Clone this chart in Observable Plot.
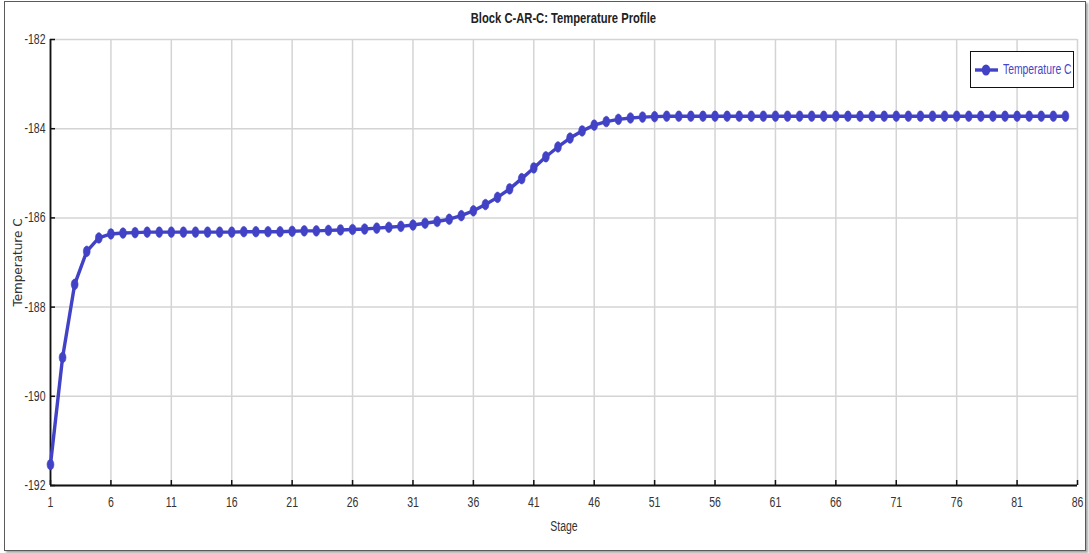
<!DOCTYPE html>
<html>
<head>
<meta charset="utf-8">
<script src="https://cdn.jsdelivr.net/npm/d3@7"></script>
<script src="https://cdn.jsdelivr.net/npm/@observablehq/plot@0.6"></script>
<style>
  html, body { margin: 0; padding: 0; background: #fff; }
  #chart {
    position: relative; width: 1089px; height: 553px; overflow: hidden;
    font-family: "Liberation Sans", Arial, sans-serif;
  }
  #frame {
    position: absolute; left: 4px; top: 1px; width: 1080px; height: 548px;
    border: 1.5px solid #5a5a5a; box-shadow: 2px 2px 2px rgba(0,0,0,0.35);
  }
  #title {
    position: absolute; top: 10px; left: 50px; width: 1027px; text-align: center;
    font-weight: bold; font-size: 14px; color: #222;
    transform: scaleX(0.8); transform-origin: 513px 0;
  }
  #plot { position: absolute; left: 0; top: 0; }
  #legend {
    position: absolute; left: 970px; top: 51px; width: 104px; height: 37px;
    border: 1px solid #111; background: #fff; box-sizing: border-box;
    white-space: nowrap;
  }
  #legend svg { position: absolute; left: 4px; top: 11px; }
  #legend span {
    position: absolute; left: 32px; top: 9px; font-size: 14px; color: #4646c8;
    transform: scaleX(0.74); transform-origin: 0 0;
  }
</style>
</head>
<body>
<div id="chart">
  <div id="frame"></div>
  <div id="plot"></div>
  <div id="title"></div>
  <div id="legend"></div>
</div>
<script>
// Block C-AR-C column temperature profile, one value per stage
const chartTitle = "Block C-AR-C: Temperature Profile";
const seriesName = "Temperature C";
const xLabel = "Stage";
const yLabel = "Temperature C";
const stages = d3.range(1, 86);
const temperatures = [
  -191.53, -189.13, -187.49, -186.75, -186.45, -186.36, -186.34, -186.33, -186.32, -186.32,
  -186.32, -186.32, -186.32, -186.32, -186.32, -186.32, -186.31, -186.31, -186.31, -186.31,
  -186.30, -186.29, -186.29, -186.28, -186.27, -186.26, -186.25, -186.23, -186.21, -186.19,
  -186.16, -186.12, -186.08, -186.03, -185.95, -185.84, -185.70, -185.54, -185.35, -185.12,
  -184.88, -184.63, -184.41, -184.21, -184.05, -183.92, -183.84, -183.79, -183.76, -183.74,
  -183.73, -183.72, -183.72, -183.72, -183.72, -183.72, -183.72, -183.72, -183.72, -183.72,
  -183.72, -183.72, -183.72, -183.72, -183.72, -183.72, -183.72, -183.72, -183.72, -183.72,
  -183.72, -183.72, -183.72, -183.72, -183.72, -183.72, -183.72, -183.72, -183.72, -183.72,
  -183.72, -183.72, -183.72, -183.72, -183.72
];
const xTicks = d3.range(1, 87, 5);
const yTicks = [-192, -190, -188, -186, -184, -182];

const data = stages.map((s, i) => ({stage: s, temp: temperatures[i]}));
const blue = "#4242c6";

// vertical ellipse marker
const ellipse = {
  draw(ctx) {
    const rx = 3.4, ry = 5.3, n = 24;
    for (let i = 0; i <= n; i++) {
      const a = (i / n) * 2 * Math.PI;
      const x = rx * Math.cos(a), y = ry * Math.sin(a);
      if (i === 0) ctx.moveTo(x, y); else ctx.lineTo(x, y);
    }
    ctx.closePath();
  }
};

const fmt = d => String(d);

const plot = Plot.plot({
  width: 1089,
  height: 553,
  marginLeft: 50,
  marginRight: 12,
  marginTop: 39,
  marginBottom: 68,
  style: {fontFamily: "'Liberation Sans', Arial, sans-serif", fontSize: "14px", color: "#333", background: "transparent"},
  x: {domain: [1, 86]},
  y: {domain: [-192, -182]},
  marks: [
    Plot.gridX(xTicks, {stroke: "#d4d4d4", strokeOpacity: 1, strokeWidth: 1.5}),
    Plot.gridY(yTicks, {stroke: "#d4d4d4", strokeOpacity: 1, strokeWidth: 1.5}),
    Plot.axisX(xTicks, {tickSize: -5, text: null, label: null, stroke: "#111", strokeWidth: 1.5}),
    Plot.axisX(xTicks, {tickSize: 0, tickPadding: 12, label: null, tickFormat: fmt, fill: "#333", className: "narrow"}),
    Plot.axisY(yTicks, {tickSize: -5, text: null, label: null, stroke: "#111", strokeWidth: 1.5}),
    Plot.axisY(yTicks, {tickSize: 0, tickPadding: 5, label: null, tickFormat: fmt, fill: "#333", className: "narrow"}),
    Plot.ruleX([1], {stroke: "#111", strokeWidth: 1.8}),
    Plot.ruleY([-192], {stroke: "#111", strokeWidth: 1.8}),
    Plot.line(data, {x: "stage", y: "temp", stroke: blue, strokeWidth: 3.4}),
    Plot.dot(data, {x: "stage", y: "temp", symbol: ellipse, fill: blue, stroke: blue, strokeWidth: 0.6}),
    Plot.text([xLabel], {frameAnchor: "bottom", dy: 45, fontSize: 14, fill: "#333", className: "narrow"}),
    Plot.text([yLabel], {frameAnchor: "left", textAnchor: "middle", dx: -32, rotate: -90, fontSize: 12, fill: "#333",
      fontFamily: "'DejaVu Sans', sans-serif", letterSpacing: "1.5px"})
  ]
});
document.getElementById("plot").appendChild(plot);

// condense the tick labels and the x-axis title horizontally around their anchors
plot.querySelectorAll("[class*='narrow'] text").forEach(t => {
  const tr = t.getAttribute("transform");
  if (tr) t.setAttribute("transform", tr + " scale(0.75,1)");
});

document.getElementById("title").textContent = chartTitle;

// legend: line with marker followed by the series name
const legend = document.getElementById("legend");
legend.innerHTML = `<svg width="24" height="14"><line x1="0" y1="7" x2="23" y2="7" stroke="${blue}" stroke-width="3.4"/><ellipse cx="11" cy="7" rx="4.2" ry="5.6" fill="${blue}"/></svg><span>${seriesName}</span>`;
</script>
</body>
</html>
